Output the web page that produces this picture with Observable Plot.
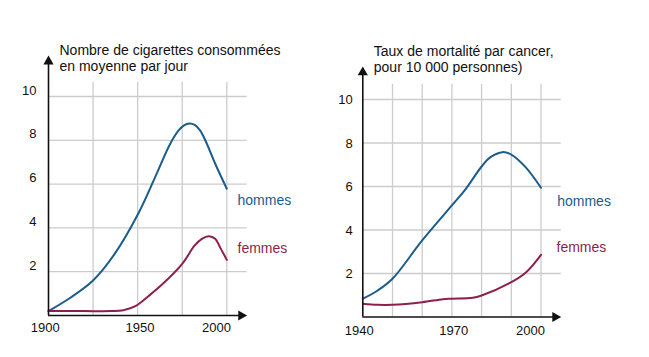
<!DOCTYPE html>
<html><head><meta charset="utf-8">
<script src="https://cdn.jsdelivr.net/npm/d3@7"></script>
<script src="https://cdn.jsdelivr.net/npm/@observablehq/plot@0.6"></script>
<style>
body{margin:0;background:#fff;}
#wrap{position:relative;width:649px;height:357px;font-family:"Liberation Sans",Arial,Helvetica,sans-serif;}
#left,#right{position:absolute;top:0;}
#left{left:0;} #right{left:324px;}
</style></head><body><div id="wrap"><div id="left"></div><div id="right"></div></div>
<script>
// ---- Left chart: cigarettes per day ----
const cigTitle = "Nombre de cigarettes consommées\nen moyenne par jour";
const cigHommesYears = [1900, 1912, 1925, 1937, 1950, 1960, 1968, 1973, 1976, 1979, 1982, 1985, 1988, 1993.5, 2000];
const cigHommesValues = [0.2, 0.8, 1.6, 2.8, 4.6, 6.35, 7.8, 8.45, 8.68, 8.77, 8.7, 8.45, 7.99, 6.93, 5.79];
const cigFemmesYears = [1900, 1920, 1935, 1942, 1949, 1956, 1963.5, 1975, 1982, 1986, 1990, 1993.5, 1996.3, 2000];
const cigFemmesValues = [0.2, 0.2, 0.2, 0.24, 0.44, 0.88, 1.4, 2.36, 3.2, 3.5, 3.62, 3.5, 3.1, 2.54];
const cigGridYears = [1925, 1950, 1975, 2000];
const cigXTicks = [1900, 1950, 2000];
const yTicks = [2, 4, 6, 8, 10];

// ---- Right chart: cancer mortality ----
const mortTitle = "Taux de mortalité par cancer,\npour 10 000 personnes)";
const mortHommesYears = [1940, 1945, 1950, 1960, 1970, 1974.3, 1980, 1983, 1987, 1990, 1994.8, 2000];
const mortHommesValues = [0.84, 1.22, 1.76, 3.52, 5.13, 5.82, 6.92, 7.35, 7.58, 7.47, 6.89, 5.94];
const mortFemmesYears = [1940, 1945, 1950, 1960, 1967, 1970, 1977, 1980, 1990, 1995, 2000];
const mortFemmesValues = [0.61, 0.56, 0.56, 0.68, 0.82, 0.84, 0.88, 0.99, 1.6, 2.06, 2.86];
const mortGridYears = [1950, 1960, 1970, 1980, 1990, 2000];
const mortXTicks = [1940, 1970, 2000];

const seriesNames = ["hommes", "femmes"];
const BLUE = "#1b5c8d", RED = "#8c1f50", GRID = "#cccccc", INK = "#111";

const toRows = (years, values) => years.map((year, i) => ({year, value: values[i]}));

function chart(cfg) {
  const hommes = toRows(cfg.hYears, cfg.hValues);
  const femmes = toRows(cfg.fYears, cfg.fValues);
  const x0 = cfg.xDomain[0];
  const marks = [
    Plot.ruleX(cfg.gridYears, {y1: 0, y2: cfg.gridTop, stroke: GRID, strokeWidth: 1.3}),
    Plot.ruleY(yTicks, {x1: x0, x2: cfg.xTip, stroke: GRID, strokeWidth: 1.3}),
    Plot.line(hommes, {x: "year", y: "value", stroke: BLUE, strokeWidth: 2, curve: "catmull-rom"}),
    Plot.line(femmes, {x: "year", y: "value", stroke: RED, strokeWidth: 2, curve: "catmull-rom"}),
    Plot.ruleX([x0], {y1: 0, y2: cfg.yTip - 0.3, stroke: INK, strokeWidth: 1.6}),
    Plot.ruleY([0], {x1: x0, x2: cfg.xTip - 2, stroke: INK, strokeWidth: 1.6}),
    Plot.dot([{x: x0, y: cfg.yTip}], {x: "x", y: "y", symbol: "triangle", r: 3.8, fill: INK, stroke: "none", dy: 5.9}),
    Plot.dot([{x: cfg.xTip, y: 0}], {x: "x", y: "y", symbol: "triangle", r: 3.8, fill: INK, stroke: "none", rotate: 90, dx: -5.9}),
    Plot.axisY({ticks: yTicks, tickSize: 0, tickPadding: cfg.yPad, dy: cfg.yDy, fontSize: 13, tickFormat: d => String(d)}),
    ...cfg.xTicks.map((t, i) => Plot.axisX({ticks: [t], tickSize: 0, tickPadding: cfg.xPad, dx: cfg.xDx[i], fontSize: 13, tickFormat: d => String(d)})),
    Plot.text([cfg.title], {frameAnchor: "top-left", dx: cfg.titleDx, dy: cfg.titleDy, lineAnchor: "top", textAnchor: "start", fontSize: 14, lineHeight: 1.1, fill: INK}),
    Plot.text(hommes, Plot.selectLast({x: "year", y: "value", text: () => seriesNames[0], fill: BLUE, fontSize: 14, textAnchor: "start", lineAnchor: "bottom", dx: cfg.hDx, dy: cfg.hDy})),
    Plot.text(femmes, Plot.selectLast({x: "year", y: "value", text: () => seriesNames[1], fill: RED, fontSize: 14, textAnchor: "start", lineAnchor: "bottom", dx: cfg.fDx, dy: cfg.fDy}))
  ];
  return Plot.plot({
    width: cfg.width, height: 357,
    marginLeft: cfg.ml, marginRight: cfg.width - cfg.xr, marginTop: cfg.yt, marginBottom: 357 - cfg.yb,
    style: {fontFamily: '"Liberation Sans", Arial, Helvetica, sans-serif', color: INK, background: "transparent", overflow: "visible"},
    x: {domain: cfg.xDomain, range: [cfg.ml, cfg.xr]},
    y: {domain: [0, 10], range: [cfg.yb, cfg.yt]},
    marks
  });
}

document.getElementById("left").appendChild(chart({
  width: 324, ml: 48, xr: 226.3, yt: 96, yb: 315,
  xDomain: [1900, 2000], gridYears: cigGridYears, gridTop: 10.65, xTip: 2011.4, yTip: 11.87,
  hYears: cigHommesYears, hValues: cigHommesValues, fYears: cigFemmesYears, fValues: cigFemmesValues,
  xTicks: cigXTicks, xDx: [-3.3, 2.3, -10.3], xPad: 7, yPad: 12, yDy: -6,
  title: cigTitle, titleDx: 11, titleDy: -52,
  hDx: 10.7, hDy: 16.3, fDx: 10.7, fDy: -6.4
}));

document.getElementById("right").appendChild(chart({
  width: 325, ml: 38.3, xr: 216.5, yt: 99, yb: 316.5,
  xDomain: [1940, 2000], gridYears: mortGridYears, gridTop: 10.7, xTip: 2006.8, yTip: 11.52,
  hYears: mortHommesYears, hValues: mortHommesValues, fYears: mortFemmesYears, fValues: mortFemmesValues,
  xTicks: mortXTicks, xDx: [-3.6, 1.9, -10.5], xPad: 9, yPad: 10, yDy: 0.5,
  title: mortTitle, titleDx: 11, titleDy: -54,
  hDx: 16.2, hDy: 17.7, fDx: 15.5, fDy: -2.3
}));
</script></body></html>
